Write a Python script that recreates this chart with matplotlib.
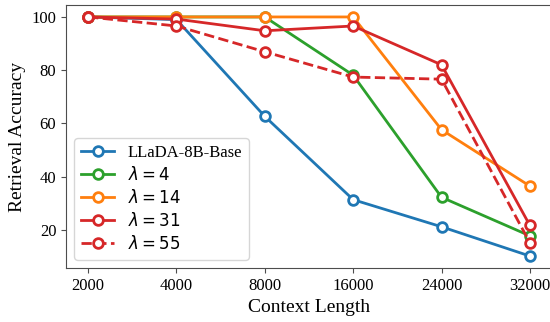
import matplotlib
matplotlib.use("Agg")
from matplotlib import pyplot as plt

context = ["2000", "4000", "8000", "16000", "24000", "32000"]

base = [100, 99, 62.6, 31.3, 21.1, 10.1]
lam4 = [100, 100, 100, 78.1, 32.2, 17.7]
lam14 = [100, 100, 100, 100, 57.6, 36.4]
lam31 = [100, 99.2, 94.8, 96.6, 82.0, 21.6]
lam55 = [100, 96.6, 86.9, 77.4, 76.6, 15.1]

plt.rcParams['font.family'] = ['Liberation Serif', 'DejaVu Serif']
plt.rcParams['mathtext.fontset'] = 'dejavusans'

fig = plt.figure(figsize=(5.5, 3.22), dpi=100)
ax = fig.add_axes([0.12, 0.1677, 0.8836, 0.8168])

x = list(range(len(context)))
style = dict(marker='o', markerfacecolor='white', markersize=7, markeredgewidth=2, linewidth=2)

ax.plot(x, base, color='tab:blue', label='LLaDA-8B-Base', **style)
ax.plot(x, lam4, color='tab:green', label=r'$\lambda = 4$', **style)
ax.plot(x, lam14, color='tab:orange', label=r'$\lambda = 14$', **style)
ax.plot(x, lam31, color='tab:red', label=r'$\lambda = 31$', **style)
ax.plot(x, lam55, color='tab:red', linestyle='--', label=r'$\lambda = 55$', **style)

ax.set_xticks(x)
ax.set_xticklabels(context)
ax.set_yticks([20, 40, 60, 80, 100])
ax.tick_params(labelsize=12, color='0.3')
for s in ax.spines.values():
    s.set_color('0.3')
ax.set_xlabel('Context Length', fontsize=14)
ax.set_ylabel('Retrieval Accuracy', fontsize=14)

leg = ax.legend(loc='lower left', fontsize=12, handlelength=2, borderaxespad=0.5,
                labelspacing=0.3)

plt.savefig('out.png', dpi=100)
plt.close()
